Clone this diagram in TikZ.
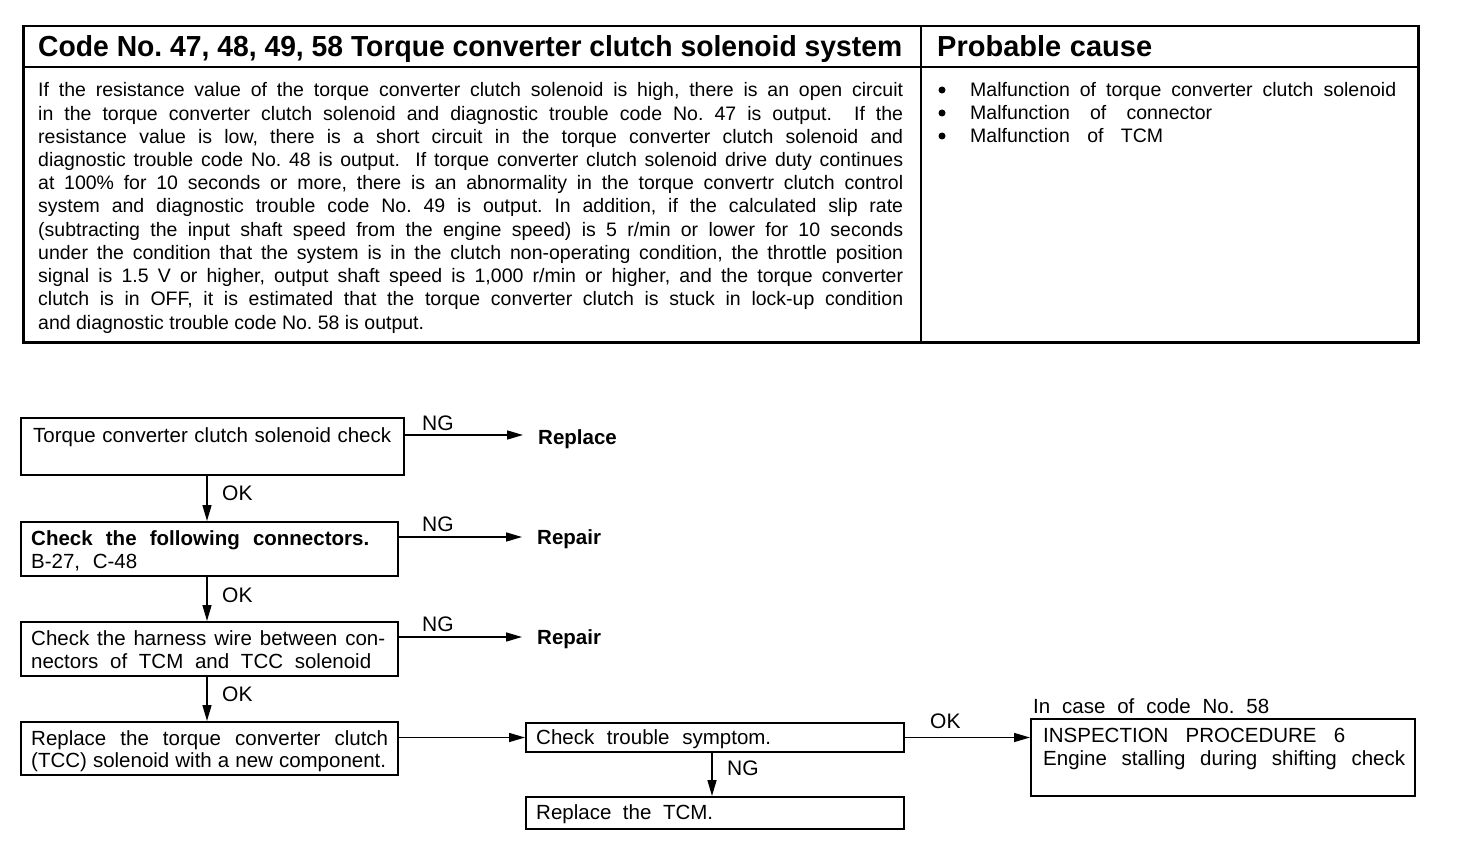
\documentclass[tikz,border=0pt]{standalone}
\usepackage{fontspec}
\setmainfont{Liberation Sans}
\usepackage{graphicx}
\usetikzlibrary{arrows.meta}
\frenchspacing
\newsavebox\fitbox
\newlength\fith
\newcommand\fitto[2]{\sbox\fitbox{#2}\setlength\fith{\ht\fitbox}\ifdim\wd\fitbox>#1\relax\resizebox{#1}{\fith}{\usebox\fitbox}\else\makebox[#1][s]{#2}\fi}
\tikzset{
  box/.style={draw, line width=2pt, inner sep=0pt, anchor=north west},
  txt/.style={inner sep=0pt, anchor=base west, font=\fontsize{20.5}{24}\selectfont},
  btxt/.style={inner sep=0pt, anchor=base west, font=\fontsize{20.5}{24}\selectfont\bfseries},
  body/.style={inner sep=0pt, anchor=base west, font=\fontsize{19.5}{23.2}\selectfont},
  lbl/.style={inner sep=0pt, anchor=base west, font=\fontsize{21}{24}\selectfont},
  hdr/.style={inner sep=0pt, anchor=base west, font=\fontsize{29}{32}\selectfont\bfseries},
  arr/.style={line width=1.5pt, -{Triangle[length=16pt,width=9pt]}},
  dot/.style={circle, fill=black, inner sep=0pt, minimum size=7pt}
}
\begin{document}
\begin{tikzpicture}[x=1pt,y=-1pt]
\useasboundingbox[fill=white] (0,0) rectangle (1472,842);
% ---- table ----
\node[box, line width=2.5pt, minimum width=1395pt, minimum height=316pt] (tbl) at (22,25) {};
\coordinate (hl) at (22,67);
\coordinate (vl) at (921,25);
\draw[line width=1.5pt] (tbl.west |- hl) -- (tbl.east |- hl);
\draw[line width=1.5pt] (tbl.north -| vl) -- (tbl.south -| vl);
\node[hdr] (h1) at (38,57) {\fitto{864pt}{Code No. 47, 48, 49, 58 Torque converter clutch solenoid system}};
\node[hdr] (h2) at (937,57) {\fitto{215pt}{Probable cause}};
\node[body] (l1) at (38,97.0) {\fitto{865pt}{If the resistance value of the torque converter clutch solenoid is high, there is an open circuit}};
\node[body] (l2) at (38,120.2) {\fitto{865pt}{in the torque converter clutch solenoid and diagnostic trouble code No. 47 is output.\ \ If the}};
\node[body] (l3) at (38,143.4) {\fitto{865pt}{resistance value is low, there is a short circuit in the torque converter clutch solenoid and}};
\node[body] (l4) at (38,166.6) {\fitto{865pt}{diagnostic trouble code No. 48 is output.\ \ If torque converter clutch solenoid drive duty continues}};
\node[body] (l5) at (38,189.8) {\fitto{865pt}{at 100\% for 10 seconds or more, there is an abnormality in the torque convertr clutch control}};
\node[body] (l6) at (38,213.0) {\fitto{865pt}{system and diagnostic trouble code No. 49 is output. In addition, if the calculated slip rate}};
\node[body] (l7) at (38,236.2) {\fitto{865pt}{(subtracting the input shaft speed from the engine speed) is 5 r/min or lower for 10 seconds}};
\node[body] (l8) at (38,259.4) {\fitto{865pt}{under the condition that the system is in the clutch non-operating condition, the throttle position}};
\node[body] (l9) at (38,282.6) {\fitto{865pt}{signal is 1.5 V or higher, output shaft speed is 1,000 r/min or higher, and the torque converter}};
\node[body] (l10) at (38,305.8) {\fitto{865pt}{clutch is in OFF, it is estimated that the torque converter clutch is stuck in lock-up condition}};
\node[body] (l11) at (38,329.0) {and diagnostic trouble code No. 58 is output.};
\node[dot] (d1) at (942,90) {};
\node[dot] (d2) at (942,113) {};
\node[dot] (d3) at (942,136) {};
\node[body] (c1) at (970,97) {\fitto{426pt}{Malfunction of torque converter clutch solenoid}};
\node[body] (c2) at (970,120) {\fitto{242pt}{Malfunction of connector}};
\node[body] (c3) at (970,143) {\fitto{193pt}{Malfunction of TCM}};
% ---- flowchart boxes ----
\node[box, minimum width=383pt, minimum height=57pt] (b1) at (20,417) {};
\node[box, minimum width=377pt, minimum height=54pt] (b2) at (20,521) {};
\node[box, minimum width=377pt, minimum height=54pt] (b3) at (20,621) {};
\node[box, minimum width=377pt, minimum height=53pt] (b4) at (20,721) {};
\node[box, minimum width=378pt, minimum height=29pt] (b5) at (525,722) {};
\node[box, minimum width=378pt, minimum height=32pt] (b6) at (525,796) {};
\node[box, minimum width=384pt, minimum height=77pt] (b7) at (1030,718) {};
% ---- box texts ----
\node[txt] (t1) at (33,442) {\fitto{358pt}{Torque converter clutch solenoid check}};
\node[btxt] (t2a) at (31,545) {\fitto{338pt}{Check the following connectors.}};
\node[txt] (t2b) at (31,568) {\fitto{106pt}{B-27, C-48}};
\node[txt] (t3a) at (31,645) {\fitto{354pt}{Check the harness wire between con-}};
\node[txt] (t3b) at (31,668) {\fitto{340pt}{nectors of TCM and TCC solenoid}};
\node[txt] (t4a) at (31,745) {\fitto{357pt}{Replace the torque converter clutch}};
\node[txt] (t4b) at (31,767) {\fitto{355pt}{(TCC) solenoid with a new component.}};
\node[txt] (t5) at (536,744) {\fitto{235pt}{Check trouble symptom.}};
\node[txt] (t6) at (536,819) {\fitto{177pt}{Replace the TCM.}};
\node[txt] (t7a) at (1043,742) {\fitto{302pt}{INSPECTION PROCEDURE 6}};
\node[txt] (t7b) at (1043,765) {\fitto{362pt}{Engine stalling during shifting check}};
\node[txt] (t7c) at (1033,713) {\fitto{236pt}{In case of code No. 58}};
% ---- outcomes ----
\node[btxt] (rep) at (538,444) {\fitto{80pt}{Replace}};
\node[btxt] (rp2) at (537,544) {\fitto{64pt}{Repair}};
\node[btxt] (rp3) at (537,644) {\fitto{64pt}{Repair}};
% ---- labels ----
\node[lbl] (ng1) at (422,430) {NG};
\node[lbl] (ng2) at (422,531) {NG};
\node[lbl] (ng3) at (422,631) {NG};
\node[lbl] (ng5) at (727,775) {NG};
\node[lbl] (ok1) at (222,500) {OK};
\node[lbl] (ok2) at (222,602) {OK};
\node[lbl] (ok3) at (222,701) {OK};
\node[lbl] (ok5) at (930,728) {OK};
% ---- connectors ----
\coordinate (vx) at (207,0);
\coordinate (vx2) at (712,0);
\coordinate (y1) at (0,435);
\coordinate (y2) at (0,537);
\coordinate (y3) at (0,637);
\draw[arr] (b1.east |- y1) -- ([xshift=-15pt]rep.west |- y1);
\draw[arr] (b2.east |- y2) -- ([xshift=-15pt]rp2.west |- y2);
\draw[arr] (b3.east |- y3) -- ([xshift=-15pt]rp3.west |- y3);
\draw[arr] (b1.south -| vx) -- (b2.north -| vx);
\draw[arr] (b2.south -| vx) -- (b3.north -| vx);
\draw[arr] (b3.south -| vx) -- (b4.north -| vx);
\draw[arr] (b4.east |- b5.west) -- (b5.west);
\draw[arr] (b5.south -| vx2) -- (b6.north -| vx2);
\draw[arr] (b5.east) -- (b5.east -| b7.west);
\end{tikzpicture}
\end{document}
